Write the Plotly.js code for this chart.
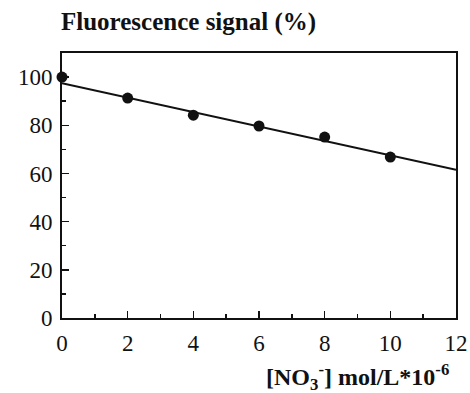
<!DOCTYPE html>
<html>
<head>
<meta charset="utf-8">
<script src="https://cdn.plot.ly/plotly-3.0.1.min.js"></script>
<style>html,body{margin:0;padding:0;background:#fff;}#chart{width:470px;height:393px;}</style>
</head>
<body>
<div id="chart"></div>
<script>
const concX = [0, 2, 4, 6, 8, 10];
const signalY = [100, 91.3, 84.2, 79.7, 75.1, 66.8];
const fitX = [0, 12];
const fitY = [97.5, 61.5];
const xTicks = [0, 2, 4, 6, 8, 10, 12];
const yTicks = [0, 20, 40, 60, 80, 100];

const font = {family: 'Liberation Serif, Times New Roman, serif', color: '#111'};

Plotly.newPlot('chart', [
  {x: fitX, y: fitY, mode: 'lines', line: {color: '#111', width: 2}, hoverinfo: 'skip'},
  {x: concX, y: signalY, mode: 'markers', marker: {color: '#111', size: 11}, cliponaxis: false}
], {
  width: 470, height: 393,
  margin: {l: 62, r: 14, t: 53, b: 75},
  paper_bgcolor: '#fff', plot_bgcolor: '#fff',
  showlegend: false,
  font: Object.assign({size: 23}, font),
  xaxis: {
    range: [0, 12], tickvals: xTicks, ticktext: xTicks.map(String),
    ticks: 'inside', ticklen: 7, tickwidth: 1.5, tickcolor: '#111',
    minor: {dtick: 1, ticks: 'inside', ticklen: 4, tickwidth: 1.5, tickcolor: '#111'},
    showline: true, linecolor: '#111', linewidth: 2, mirror: true,
    showgrid: false, zeroline: false, ticklabelstandoff: 3,
    tickfont: Object.assign({size: 23}, font)
  },
  yaxis: {
    range: [0, 110], tickvals: yTicks, ticktext: yTicks.map(String),
    ticks: 'inside', ticklen: 7, tickwidth: 1.5, tickcolor: '#111',
    minor: {dtick: 10, ticks: 'inside', ticklen: 4, tickwidth: 1.5, tickcolor: '#111'},
    showline: true, linecolor: '#111', linewidth: 2, mirror: true,
    showgrid: false, zeroline: false, ticklabelstandoff: 3,
    tickfont: Object.assign({size: 23}, font)
  },
  annotations: [
    {text: '<b>Fluorescence signal (%)</b>', xref: 'paper', yref: 'paper', x: 0, y: 1, xshift: -3,
     yshift: 31, xanchor: 'left', yanchor: 'middle', showarrow: false,
     font: Object.assign({size: 25}, font)},
    {text: '<b>[NO<sub>3</sub><sup>-</sup>] mol/L*10<sup>-6</sup></b>', xref: 'paper', yref: 'paper',
     x: 1, y: 0, xshift: -5, yshift: -59, xanchor: 'right', yanchor: 'middle', showarrow: false,
     font: Object.assign({size: 24}, font)}
  ]
}, {staticPlot: true});
</script>
</body>
</html>
